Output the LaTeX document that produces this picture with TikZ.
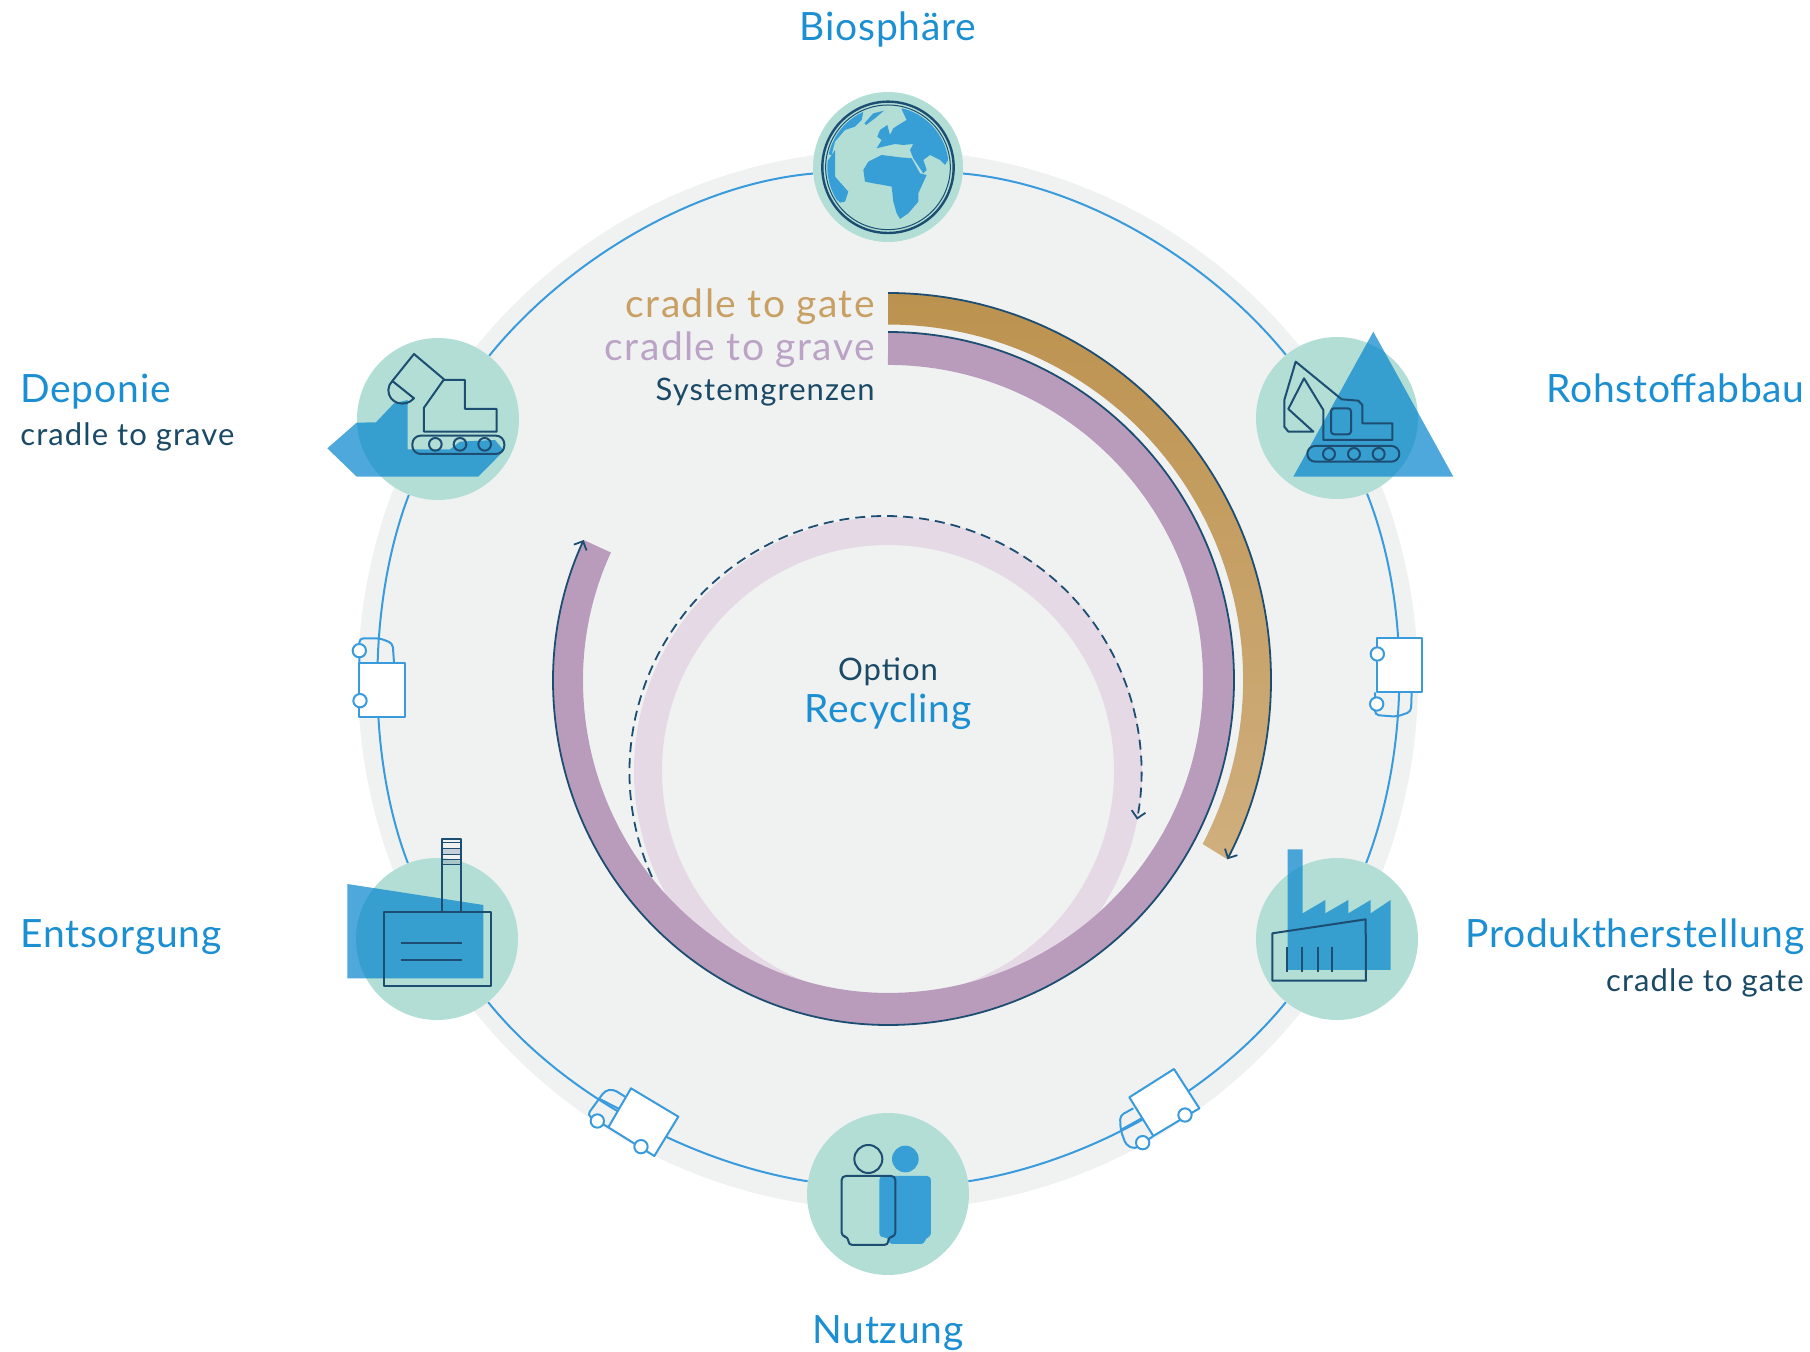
\documentclass[tikz,border=0pt]{standalone}
\usepackage{fontspec}
\setmainfont{Lato}
\usepackage{xcolor}
\usetikzlibrary{arrows.meta}
\definecolor{stationteal}{HTML}{B2DED6}
\definecolor{diskgray}{HTML}{F0F2F2}
\definecolor{ringblue}{HTML}{3A9BDC}
\definecolor{iconblue}{HTML}{0685CE}
\definecolor{globeblue}{HTML}{379FD6}
\definecolor{navyline}{HTML}{1D4E72}
\definecolor{labelblue}{HTML}{1B8FD2}
\definecolor{labelnavy}{HTML}{1A4A66}
\definecolor{goldtop}{HTML}{BC924F}
\definecolor{goldbot}{HTML}{D0AF7E}
\definecolor{goldtext}{HTML}{C9A064}
\definecolor{mauveband}{HTML}{B99CBC}
\definecolor{mauvetext}{HTML}{BBA3C6}
\definecolor{mauvepale}{HTML}{E6D9E6}
\tikzset{
  station/.style={circle, fill=stationteal, inner sep=0pt, minimum size=81pt},
  ringline/.style={draw=ringblue, line width=1pt, looseness=.83},
  bandedge/.style={draw=navyline, line width=.9pt, ->, >={Straight Barb[length=3.5pt,width=7pt]}},
  iconfill/.style={fill=iconblue, fill opacity=.71},
  iconline/.style={draw=navyline, line width=1pt, line join=round},
  truckline/.style={draw=ringblue, line width=1pt, line join=round},
  truckbox/.style={truckline, fill=white},
  truckwheel/.style={truckline, fill=white},
  biglabel/.style={inner sep=0pt, text=labelblue, font=\fontsize{19.5}{19.5}\selectfont\addfontfeature{LetterSpace=2}},
  ziglabel/.style={inner sep=0pt, font=\fontsize{19.5}{19.5}\selectfont\addfontfeature{LetterSpace=3.6}},
  smalllabel/.style={inner sep=0pt, text=labelnavy, font=\fontsize{15.5}{15.5}\selectfont\addfontfeature{LetterSpace=3.5}},
}
\begin{document}
\begin{tikzpicture}[x=.5pt,y=-.5pt]
  \useasboundingbox (0,0) rectangle (1810,1352);
  \fill[diskgray] (888,680) circle[radius=530];

  \node (biosphere) [station, minimum size=75pt] at (888,167) {};
  \node (rohstoff) [station] at (1337,418) {};
  \node (produkt) [station] at (1337,939) {};
  \node (nutzung) [station] at (888,1194) {};
  \node (entsorgung) [station] at (437,939) {};
  \node (deponie) [station] at (438,419) {};

  \path[ringline]
    (biosphere) edge [out=-5,in=129] (rohstoff)
    (rohstoff) edge [out=-68.6,in=69] (produkt)
    (produkt) edge [out=-129,in=9] (nutzung)
    (nutzung) edge [out=171,in=-51] (entsorgung)
    (entsorgung) edge [out=111,in=-111,looseness=.8] (deponie)
    (deponie) edge [out=51,in=185] (biosphere);

  \fill[mauvepale, even odd rule] (888,771) circle[radius=254] (888,771) circle[radius=226];
  \draw[bandedge, dash pattern=on 5pt off 3pt] (652,877) arc[start angle=155.8, end angle=370.7, radius=256];

  \shade[top color=goldtop, bottom color=goldbot] (888,293)
    arc[start angle=-90, end angle=27.6, x radius=383, y radius=387]
    -- (1202.6,844) arc[start angle=27.6, end angle=-90, radius=355] -- cycle;
  \draw[bandedge] (888,293) arc[start angle=-90, end angle=27.6, x radius=383, y radius=387];

  \fill[mauveband] (888,332)
    arc[start angle=-90, end angle=0, x radius=346, y radius=348]
    arc[start angle=0, end angle=90, x radius=346, y radius=345]
    arc[start angle=90, end angle=180, x radius=335, y radius=345]
    arc[start angle=180, end angle=204.7, radius=335]
    -- (610.9,552.5)
    arc[start angle=204.7, end angle=180, radius=305]
    arc[start angle=180, end angle=90, x radius=305, y radius=313]
    arc[start angle=90, end angle=0, x radius=315, y radius=313]
    arc[start angle=0, end angle=-90, radius=315] -- cycle;
  \draw[bandedge] (888,332)
    arc[start angle=-90, end angle=0, x radius=346, y radius=348]
    arc[start angle=0, end angle=90, x radius=346, y radius=345]
    arc[start angle=90, end angle=180, x radius=335, y radius=345]
    arc[start angle=180, end angle=204.7, radius=335];

  \begin{scope}[shift={(780,70)}, scale=.3333]
    \begin{scope}
      \clip (324,292) circle[radius=182];
      \fill[globeblue] (165,240) -- (165,320) -- (205,365) -- (195,395) -- (180,398) -- (140,360) -- (125,300) -- cycle;
      \fill[globeblue] (130,250) -- (150,190) -- (215,125) -- (250,125) -- (245,150) -- (225,170) -- (195,180) -- (165,215) -- (155,255) -- cycle;
      \fill[globeblue] (253,160) -- (280,130) -- (312,122) -- (285,145) -- (258,165) -- cycle;
      \fill[globeblue] (365,118) -- (380,150) -- (355,165) -- (340,175) -- (330,195) -- (322,165) -- (300,180)
        -- (292,200) -- (305,210) -- (290,235) -- (310,230) -- (345,222) -- (370,225) -- (400,222) -- (390,240)
        -- (400,265) -- (430,310) -- (440,300) -- (430,270) -- (450,255) -- (480,270) -- (495,285) -- (530,230)
        -- (510,150) -- (440,100) -- (370,100) -- cycle;
      \fill[globeblue] (250,300) -- (265,275) -- (305,255) -- (360,262) -- (395,265) -- (420,310) -- (440,315)
        -- (415,370) -- (415,395) -- (385,430) -- (360,447) -- (350,430) -- (340,395) -- (335,350) -- (310,345)
        -- (280,340) -- (255,335) -- cycle;
    \end{scope}
    \draw[iconline, line width=1.2pt] (324,292) circle[radius=197];
    \draw[navyline, line width=.5pt] (324,292) circle[radius=187];
  \end{scope}

  \begin{scope}[shift={(1230,310)}, scale=.3333]
    \fill[iconfill] (430,65) -- (670,500) -- (190,500) -- cycle;
    \draw[iconline] (280,300) -- (222,205) -- (175,297) -- (250,365) -- (175,365) -- (163,350) -- (163,270) -- (197,155)
      -- (335,268) -- (385,272) -- (397,285) -- (397,340) -- (487,340) -- (487,390) -- (280,390) -- cycle;
    \draw[iconline, rounded corners=1.5pt] (303,295) rectangle (363,373);
    \draw[iconline, rounded corners=3.9pt] (232,408) rectangle (508,455);
    \foreach \wheelx in {297,372,446}
      \draw[iconline] (\wheelx,432) circle[radius=18];
  \end{scope}

  \begin{scope}[shift={(310,320)}, scale=.3333]
    \fill[iconfill] (52,385) -- (140,308) -- (198,307) -- (252,250) -- (293,240) -- (293,388) -- (420,388) -- (450,365)
      -- (555,360) -- (582,392) -- (505,470) -- (140,470) -- cycle;
    \draw[iconline] (247,183) -- (312,235) .. controls (285,265) and (235,250) .. (235,210) .. controls (235,200) and (240,190) .. (247,183)
      -- (312,102) -- (402,178) -- (342,263) -- (342,335) -- (560,335) -- (560,267) -- (465,267) -- (465,180) -- (402,180);
    \draw[iconline, rounded corners=4.2pt] (307,347) rectangle (583,402);
    \foreach \wheelx in {376,450,524}
      \draw[iconline] (\wheelx,373) circle[radius=19];
  \end{scope}

  \begin{scope}[shift={(1240,830)}, scale=.3333]
    \fill[iconfill] (143,58) -- (188,58) -- (188,250) -- (256,210) -- (256,250) -- (325,210) -- (325,250) -- (392,210)
      -- (392,250) -- (452,210) -- (452,420) -- (143,420) -- cycle;
    \draw[iconline] (97,310) -- (377,268) -- (378,452) -- (97,452) -- cycle;
    \foreach \barx in {141,185,235,276}
      \draw[iconline] (\barx,350) -- (\barx,425);
  \end{scope}

  \begin{scope}[shift={(330,820)}, scale=.3333]
    \fill[iconfill] (52,192) -- (460,255) -- (460,475) -- (52,475) -- cycle;
    \draw[iconline] (163,277) rectangle (484,498);
    \draw[iconline] (212,370) -- (395,370) (212,420) -- (395,420);
    \fill[diskgray!60!navyline, opacity=.5] (335,85) rectangle (392,105) (335,120) rectangle (392,135);
    \draw[iconline] (335,277) -- (335,58) -- (392,58) -- (392,277);
    \foreach \bary in {58,68,85,105,120,135}
      \draw[iconline, line width=.5pt] (335,\bary) -- (392,\bary);
  \end{scope}

  \begin{scope}[shift={(790,1100)}, scale=.3333]
    \fill[globeblue] (346,177) circle[radius=40];
    \fill[globeblue, rounded corners=2pt] (268,228) -- (423,228) -- (423,412) -- (405,412) -- (405,432) -- (295,432) -- (295,412) -- (268,412) -- cycle;
    \draw[iconline] (235,177) circle[radius=42];
    \draw[iconline, rounded corners=2pt] (155,228) -- (316,228) -- (316,410) -- (295,410) -- (295,435) -- (175,435) -- (175,410) -- (155,410) -- cycle;
  \end{scope}

  \begin{scope}[shift={(1100,1050)}, scale=.3333]
    \draw[truckline, rounded corners=2pt] (100,175) -- (60,197) -- (62,240) -- (78,285) -- (105,297) -- (160,258);
    \draw[truckline] (62,240) -- (125,205);
    \draw[truckbox] (88,142) -- (222,57) -- (298,175) -- (160,258) -- cycle;
    \draw[truckwheel] (128,278) circle[radius=20];
    \draw[truckwheel] (255,195) circle[radius=20];
  \end{scope}

  \begin{scope}[shift={(570,1070)}, scale=.3333]
    \draw[truckline, rounded corners=2pt] (165,80) -- (130,58) -- (105,62) -- (52,135) -- (115,172);
    \draw[truckline] (85,85) -- (150,118);
    \draw[truckbox] (183,55) -- (325,140) -- (253,258) -- (115,172) -- cycle;
    \draw[truckwheel] (82,153) circle[radius=20];
    \draw[truckwheel] (213,230) circle[radius=20];
  \end{scope}

  \begin{scope}[shift={(340,620)}, scale=.3333]
    \draw[truckline, rounded corners=2pt] (58,128) -- (58,55) -- (120,55) -- (158,70) -- (162,128);
    \draw[truckbox] (58,128) rectangle (195,290);
    \draw[truckwheel] (58,92) circle[radius=20];
    \draw[truckwheel] (60,242) circle[radius=20];
  \end{scope}

  \begin{scope}[shift={(1350,620)}, scale=.3333]
    \draw[truckline, rounded corners=2pt] (75,217) -- (75,285) -- (140,290) -- (183,275) -- (185,217);
    \draw[truckbox] (80,55) rectangle (217,217);
    \draw[truckwheel] (82,102) circle[radius=20];
    \draw[truckwheel] (80,252) circle[radius=20];
  \end{scope}

  \node (biolabel) [biglabel] at (888,29) {Biosphäre};
  \node (rohlabel) [biglabel, anchor=east] at (1805,388) {Rohstoffabbau};
  \node (prodlabel) [biglabel, anchor=east] at (1805,937) {Produktherstellung};
  \node (prodsub) [smalllabel, anchor=east] at (1804,983) {cradle to gate};
  \node (nutzlabel) [biglabel] at (888,1333) {Nutzung};
  \node (entslabel) [biglabel, anchor=west] at (20,937) {Entsorgung};
  \node (deplabel) [biglabel, anchor=west] at (20,392) {Deponie};
  \node (depsub) [smalllabel, anchor=west] at (20,437) {cradle to grave};
  \node (gatelabel) [ziglabel, text=goldtext, anchor=east] at (875,307) {cradle to gate};
  \node (gravelabel) [ziglabel, text=mauvetext, anchor=east] at (875,350) {cradle to grave};
  \node (grenzlabel) [smalllabel, anchor=east] at (875,392) {Systemgrenzen};
  \node (optlabel) [smalllabel] at (888,672) {Option};
  \node (recylabel) [biglabel] at (888,712) {Recycling};
\end{tikzpicture}
\end{document}
